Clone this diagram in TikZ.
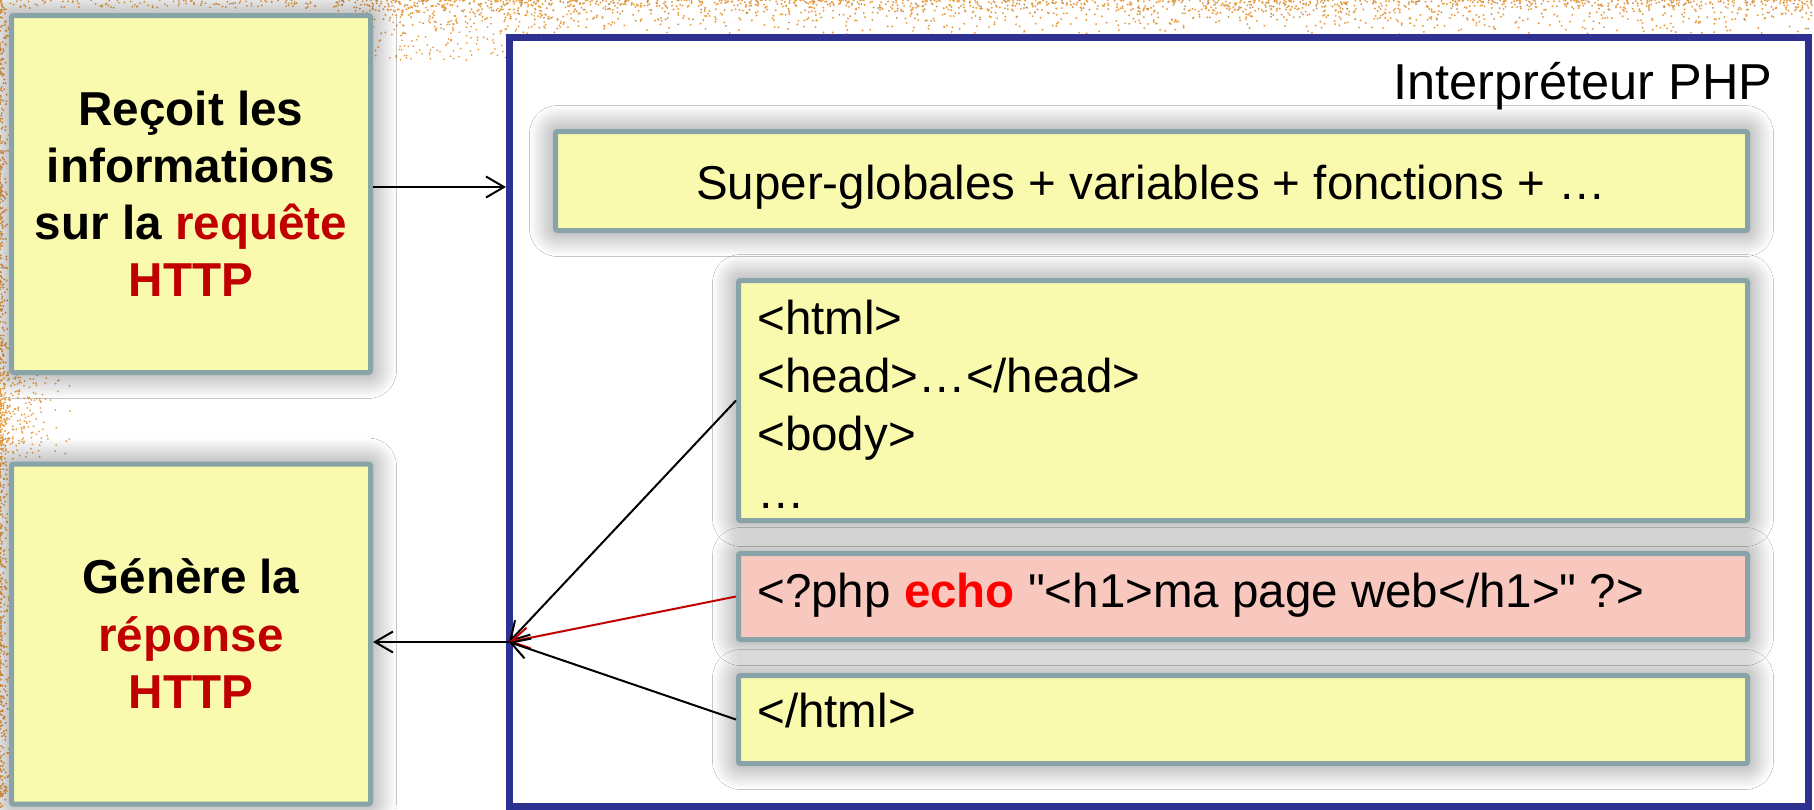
\documentclass[tikz,border=0pt]{standalone}
\usepackage{fontspec}
\setmainfont{Liberation Sans}
\newfontfamily\plainsans{Liberation Sans}
\usetikzlibrary{arrows.meta,shadows.blur}
\definecolor{boxfill}{RGB}{250,250,175}
\definecolor{boxline}{RGB}{136,164,168}
\definecolor{pinkfill}{RGB}{248,200,190}
\definecolor{frameblue}{RGB}{46,49,146}
\definecolor{darkred}{RGB}{192,0,0}
\definecolor{brightred}{RGB}{255,0,0}
\definecolor{speck}{RGB}{232,160,70}
\definecolor{speckdark}{RGB}{190,140,90}
\begin{document}
\begin{tikzpicture}[x=0.5pt,y=-0.5pt,
  card/.style={draw=boxline, line width=2.5pt, fill=boxfill, rounded corners=1pt,
     blur shadow={shadow blur radius=13pt, shadow xshift=0pt, shadow yshift=0pt, shadow opacity=50, shadow blur steps=28}},
  pinkcard/.style={card, fill=pinkfill},
  bigtxt/.style={font=\fontsize{23.8pt}{28.5pt}\selectfont\bfseries, align=center},
  codetxt/.style={font=\plainsans\fontsize{23.75pt}{29pt}\selectfont, inner sep=0pt, anchor=base west},
  arr/.style={line width=1pt, -{Straight Barb[length=9pt,width=10.5pt]}},
]
\useasboundingbox[fill=white] (0,0) rectangle (1814,809);
% background speckles
\pgfmathsetseed{4242}
\foreach \i in {1,...,1700}{
  \pgfmathsetmacro\xx{330+1484*rnd}
  \pgfmathsetmacro\yy{46*rnd*rnd}
  \fill[speck] (\xx,\yy) circle[radius=0.55pt];
}
\foreach \i in {1,...,250}{
  \pgfmathsetmacro\xx{330+1484*rnd}
  \pgfmathsetmacro\yy{30*rnd*rnd}
  \fill[speckdark] (\xx,\yy) circle[radius=0.5pt];
}
\foreach \i in {1,...,200}{
  \pgfmathsetmacro\xx{370+200*rnd}
  \pgfmathsetmacro\yy{60*rnd}
  \fill[speck] (\xx,\yy) circle[radius=0.5pt];
}
\foreach \i in {1,...,700}{
  \pgfmathsetmacro\xx{11*rnd*rnd}
  \pgfmathsetmacro\yy{809*rnd}
  \fill[speck] (\xx,\yy) circle[radius=0.55pt];
}
\foreach \i in {1,...,250}{
  \pgfmathsetmacro\xx{75*rnd*rnd}
  \pgfmathsetmacro\yy{365+95*rnd}
  \fill[speck] (\xx,\yy) circle[radius=0.5pt];
}
\foreach \i in {1,...,120}{
  \pgfmathsetmacro\xx{320*rnd}
  \pgfmathsetmacro\yy{8*rnd}
  \fill[speck] (\xx,\yy) circle[radius=0.5pt];
}

% PHP interpreter frame
\node[draw=frameblue, line width=3.5pt, fill=white, inner sep=0pt,
      minimum width=649.25pt, minimum height=384.25pt] (frame) at (1158.75,421.75) {};
\node[font=\fontsize{25.25pt}{30pt}\selectfont, anchor=base east, inner sep=0pt] (title) at (1773,99) {Interpréteur PHP};

% left cards
\node[card, bigtxt, minimum width=179.5pt, minimum height=178.5pt] (req) at (191,194)
  {Reçoit les\\informations\\sur la \textcolor{darkred}{requête}\\\textcolor{darkred}{HTTP}};
\node[card, bigtxt, minimum width=179.5pt, minimum height=170pt, font=\fontsize{23.8pt}{28.75pt}\selectfont\bfseries] (resp) at (191,634)
  {Génère la\\\textcolor{darkred}{réponse}\\\textcolor{darkred}{HTTP}};

% inner cards
\node[card, minimum width=596pt, minimum height=49.5pt] (sg) at (1151.5,181) {};
\node[font=\fontsize{23.75pt}{29pt}\selectfont, anchor=base, inner sep=0pt] (sgt) at (1151,199)
  {Super-globales + variables + fonctions + …};

\node[card, minimum width=504.5pt, minimum height=120pt] (html) at (1243,400.5) {};
\node[codetxt] (l1) at (757,334.5) {<html>};
\node[codetxt] (l2) at (757,392.5) {<head>…</head>};
\node[codetxt] (l3) at (757,450.5) {<body>};
\node[codetxt] (l4) at (757,508.5) {…};

\node[pinkcard, minimum width=504.5pt, minimum height=43pt] (php) at (1243,596.5) {};
\node[codetxt] (phpt) at (757,607) {<?php \textcolor{brightred}{\textbf{echo}} "<h1>ma page web</h1>" ?>};

\node[card, minimum width=504.5pt, minimum height=44pt] (close) at (1243,719.5) {};
\node[codetxt] (closet) at (757,727) {</html>};

% connectors
\coordinate (hub) at (509,642);
\draw[arr] (req.east |- 0,187) -- (frame.west |- 0,187);
\draw[arr] (html.west) -- (hub);
\draw[arr, darkred] (php.west) -- (hub);
\draw[arr] (close.west) -- (hub);
\draw[arr] (hub) -- (hub -| resp.east);
\end{tikzpicture}
\end{document}
